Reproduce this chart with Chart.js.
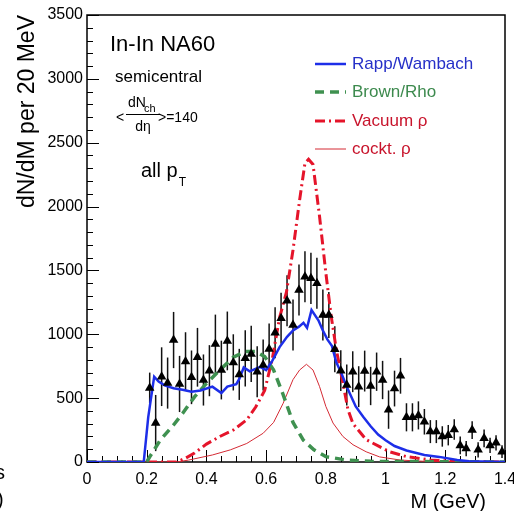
<!DOCTYPE html>
<html lang="en">
<head>
    <meta charset="UTF-8">
    <title>In-In NA60 dimuon mass spectrum</title>
    <script src="https://cdn.jsdelivr.net/npm/chart.js@4.4.3/dist/chart.umd.min.js"></script>
    <style>
        html, body { margin: 0; padding: 0; background: #ffffff; }
        #wrap { position: relative; width: 514px; height: 511px; }
    </style>
</head>
<body>
    <div id="wrap">
        <canvas id="na60-chart"></canvas>
    </div>

    <script>
        // --- data (M in GeV, counts per 20 MeV) ---
        const dataMass = [0.21, 0.23, 0.25, 0.27, 0.29, 0.31, 0.33, 0.35, 0.37, 0.39,
                          0.41, 0.43, 0.45, 0.47, 0.49, 0.51, 0.53, 0.55, 0.57, 0.59,
                          0.61, 0.63, 0.65, 0.67, 0.69, 0.71, 0.73, 0.75, 0.77, 0.79,
                          0.81, 0.83, 0.85, 0.87, 0.89, 0.91, 0.93, 0.95, 0.97, 0.99,
                          1.01, 1.03, 1.05, 1.07, 1.09, 1.11, 1.13, 1.15, 1.17, 1.19,
                          1.21, 1.23, 1.25, 1.27, 1.29, 1.31, 1.33, 1.35, 1.37, 1.39];
        const dataCounts = [580, 305, 668, 618, 955, 611, 786, 663, 820, 642,
                            715, 924, 720, 948, 780, 686, 812, 846, 707, 760,
                            885, 1012, 1125, 1263, 1073, 1347, 1451, 1438, 1399, 1151,
                            1151, 882, 715, 603, 707, 590, 712, 595, 707, 642,
                            410, 575, 675, 350, 350, 365, 315, 238, 238, 200,
                            210, 255, 130, 105, 250, 95, 185, 130, 150, 81];
        const dataErrors = [120, 220, 230, 200, 220, 220, 230, 210, 230, 200,
                            200, 230, 230, 230, 220, 200, 220, 220, 200, 200,
                            200, 200, 200, 200, 200, 200, 200, 200, 200, 200,
                            180, 180, 160, 160, 160, 160, 160, 150, 150, 150,
                            150, 140, 140, 110, 110, 110, 100, 90, 90, 80,
                            80, 80, 70, 60, 70, 60, 70, 60, 60, 50];

        const rappMass = [0, 0.19, 0.205, 0.225, 0.24, 0.26, 0.29, 0.32, 0.35, 0.38,
                          0.42, 0.45, 0.47, 0.5, 0.51, 0.525, 0.545, 0.58, 0.6, 0.62,
                          0.645, 0.67, 0.69, 0.71, 0.725, 0.737, 0.752, 0.775, 0.79, 0.805,
                          0.82, 0.835, 0.852, 0.87, 0.9, 0.925, 0.95, 0.975, 1.0, 1.03,
                          1.07, 1.13, 1.18, 1.24, 1.28, 1.4];
        const rappCounts = [0, 0, 350, 668, 630, 600, 578, 565, 550, 560,
                            590, 540, 590, 610, 650, 740, 710, 745, 720, 790,
                            900, 980, 1030, 1060, 1090, 1050, 1190, 1110, 1030, 960,
                            910, 780, 695, 590, 435, 355, 280, 215, 170, 125,
                            90, 55, 40, 15, 5, 0];

        const brownMass = [0, 0.2, 0.21, 0.245, 0.29, 0.32, 0.36, 0.4, 0.445, 0.49,
                           0.53, 0.565, 0.595, 0.625, 0.655, 0.69, 0.725, 0.76, 0.8, 0.87,
                           0.95, 1.4];
        const brownCounts = [0, 0, 40, 170, 290, 380, 510, 615, 720, 820,
                             865, 865, 825, 720, 540, 310, 170, 95, 42, 15,
                             5, 0];

        const vacuumMass = [0, 0.3, 0.33, 0.36, 0.4, 0.445, 0.49, 0.535, 0.565, 0.595,
                            0.62, 0.645, 0.668, 0.69, 0.712, 0.73, 0.742, 0.757, 0.779, 0.8,
                            0.818, 0.835, 0.857, 0.874, 0.891, 0.935, 0.98, 1.013, 1.07, 1.15,
                            1.25, 1.4];
        const vacuumCounts = [0, 0, 30, 70, 140, 200, 250, 330, 430, 560,
                              800, 1130, 1330, 1660, 2050, 2340, 2370, 2330, 1920, 1480,
                              1140, 880, 620, 410, 300, 175, 120, 80, 42, 16,
                              3, 0];

        const cocktMass = [0, 0.3, 0.34, 0.42, 0.48, 0.535, 0.59, 0.625, 0.657, 0.69,
                           0.712, 0.735, 0.757, 0.779, 0.8, 0.824, 0.857, 0.891, 0.935, 0.98,
                           1.05, 1.15, 1.4];
        const cocktCounts = [0, 0, 15, 55, 95, 145, 225, 310, 460, 645,
                             720, 765, 720, 590, 435, 305, 200, 135, 80, 40,
                             15, 3, 0];

        const xTicks = [0, 0.2, 0.4, 0.6, 0.8, 1.0, 1.2, 1.4];
        const yTicks = [0, 500, 1000, 1500, 2000, 2500, 3000, 3500];

        const legendLabels = ['Rapp/Wambach', 'Brown/Rho', 'Vacuum \u03c1', 'cockt. \u03c1'];
        const legendTextColors = ['#2630c8', '#3d8a4e', '#c8142c', '#c8142c'];

        const FONT = '"Liberation Sans", Arial, sans-serif';

        function toPoints(xs, ys) {
            return xs.map((x, i) => ({ x: x, y: ys[i] }));
        }

        // vertical error bars, drawn behind the curves
        const errorBarPlugin = {
            id: 'errorBars',
            beforeDatasetsDraw(chart) {
                const ctx = chart.ctx;
                const xs = chart.scales.x, ys = chart.scales.y;
                ctx.save();
                ctx.strokeStyle = '#111111';
                ctx.lineWidth = 1.5;
                dataMass.forEach((m, i) => {
                    const px = xs.getPixelForValue(m);
                    ctx.beginPath();
                    ctx.moveTo(px, ys.getPixelForValue(dataCounts[i] - dataErrors[i]));
                    ctx.lineTo(px, ys.getPixelForValue(dataCounts[i] + dataErrors[i]));
                    ctx.stroke();
                });
                ctx.restore();
            }
        };

        // ROOT-like frame with inward ticks
        const framePlugin = {
            id: 'frame',
            beforeDatasetsDraw(chart) {
                const ctx = chart.ctx;
                const a = chart.chartArea;
                const xs = chart.scales.x, ys = chart.scales.y;
                ctx.save();
                ctx.strokeStyle = '#000000';
                ctx.lineWidth = 1.5;
                ctx.strokeRect(a.left, a.top, a.right - a.left, a.bottom - a.top);
                ctx.lineWidth = 1;
                ctx.beginPath();
                for (let v = 0; v <= 1.4001; v += 0.05) {
                    const px = Math.round(xs.getPixelForValue(v)) + 0.5;
                    const major = Math.abs(v / 0.2 - Math.round(v / 0.2)) < 1e-6;
                    ctx.moveTo(px, a.bottom);
                    ctx.lineTo(px, a.bottom - (major ? 12 : 6));
                }
                for (let v = 0; v <= 3500; v += 100) {
                    const py = Math.round(ys.getPixelForValue(v)) + 0.5;
                    ctx.moveTo(a.left, py);
                    ctx.lineTo(a.left + (v % 500 === 0 ? 12 : 6), py);
                }
                ctx.stroke();
                ctx.restore();
            }
        };

        // titles, annotations and the legend box
        const textPlugin = {
            id: 'texts',
            afterDraw(chart) {
                const ctx = chart.ctx;
                ctx.save();
                ctx.fillStyle = '#000000';
                ctx.textBaseline = 'alphabetic';

                // axis titles
                ctx.font = '20px ' + FONT;
                ctx.textAlign = 'right';
                ctx.fillText('M (GeV)', 486, 508);

                ctx.save();
                ctx.translate(34, 15);
                ctx.rotate(-Math.PI / 2);
                ctx.font = '23px ' + FONT;
                ctx.textAlign = 'right';
                ctx.fillText('dN/dM per 20 MeV', 0, 0);
                ctx.restore();

                // cropped leftovers at the bottom-left edge
                ctx.textAlign = 'left';
                ctx.font = '20px ' + FONT;
                ctx.fillText('s', -5, 479);
                ctx.fillText(')', -3, 506);

                // annotations
                ctx.font = '22px ' + FONT;
                ctx.fillText('In-In NA60', 110, 51);
                ctx.font = '17px ' + FONT;
                ctx.fillText('semicentral', 115, 82);

                ctx.font = '14px ' + FONT;
                ctx.fillText('<', 116, 122);
                ctx.fillText('dN', 128, 107);
                ctx.font = '11px ' + FONT;
                ctx.fillText('ch', 144, 112);
                ctx.font = '14px ' + FONT;
                ctx.textAlign = 'center';
                ctx.fillText('d\u03b7', 143, 131);
                ctx.textAlign = 'left';
                ctx.fillText('>=140', 158, 122);
                ctx.lineWidth = 1;
                ctx.strokeStyle = '#000000';
                ctx.beginPath();
                ctx.moveTo(126, 114.5);
                ctx.lineTo(160, 114.5);
                ctx.stroke();

                ctx.font = '20px ' + FONT;
                ctx.fillText('all p', 141, 177);
                const pEnd = 141 + ctx.measureText('all p').width;
                ctx.font = '12px ' + FONT;
                ctx.fillText('T', pEnd + 1, 186);

                // legend
                const rows = [64, 92, 121, 149];
                for (let k = 0; k < 4; k++) {
                    const ds = chart.data.datasets[k + 1];
                    ctx.save();
                    ctx.strokeStyle = ds.borderColor;
                    ctx.lineWidth = ds.borderWidth;
                    ctx.setLineDash(ds.borderDash || []);
                    ctx.beginPath();
                    ctx.moveTo(315, rows[k]);
                    ctx.lineTo(346, rows[k]);
                    ctx.stroke();
                    ctx.restore();
                    ctx.fillStyle = legendTextColors[k];
                    ctx.font = '17px ' + FONT;
                    ctx.textBaseline = 'middle';
                    ctx.fillText(legendLabels[k], 352, rows[k]);
                }
                ctx.restore();
            }
        };

        const ctx = document.getElementById('na60-chart');
        new Chart(ctx, {
            type: 'scatter',
            data: {
                datasets: [
                    {
                        label: 'NA60 data',
                        data: toPoints(dataMass, dataCounts),
                        pointStyle: 'triangle',
                        pointRadius: 5.5,
                        backgroundColor: '#000000',
                        borderColor: '#000000',
                        borderWidth: 0,
                        showLine: false
                    },
                    {
                        label: legendLabels[0],
                        data: toPoints(rappMass, rappCounts),
                        showLine: true,
                        borderColor: '#1d2ee8',
                        borderWidth: 2.5,
                        pointRadius: 0
                    },
                    {
                        label: legendLabels[1],
                        data: toPoints(brownMass, brownCounts),
                        showLine: true,
                        borderColor: '#3f9150',
                        borderWidth: 3.5,
                        borderDash: [9, 6],
                        pointRadius: 0
                    },
                    {
                        label: legendLabels[2],
                        data: toPoints(vacuumMass, vacuumCounts),
                        showLine: true,
                        borderColor: '#e5142a',
                        borderWidth: 3,
                        borderDash: [10, 4, 2, 4],
                        pointRadius: 0
                    },
                    {
                        label: legendLabels[3],
                        data: toPoints(cocktMass, cocktCounts),
                        showLine: true,
                        borderColor: '#d42a34',
                        borderWidth: 1,
                        pointRadius: 0
                    }
                ]
            },
            options: {
                responsive: true,
                maintainAspectRatio: false,
                animation: false,
                events: [],
                layout: { padding: { top: 15, right: 9, left: 0, bottom: 0 } },
                plugins: {
                    legend: { display: false },
                    tooltip: { enabled: false }
                },
                scales: {
                    x: {
                        type: 'linear',
                        min: 0,
                        max: 1.4,
                        border: { display: false },
                        grid: { display: false, drawTicks: false },
                        afterBuildTicks: (scale) => { scale.ticks = xTicks.map(v => ({ value: v })); },
                        afterFit: (scale) => { scale.height = 49; scale.paddingLeft = 0; scale.paddingRight = 0; },
                        ticks: {
                            padding: 8,
                            maxRotation: 0,
                            color: '#000000',
                            font: { family: FONT, size: 16 },
                            callback: (v) => String(+v.toFixed(1))
                        }
                    },
                    y: {
                        type: 'linear',
                        min: 0,
                        max: 3500,
                        border: { display: false },
                        grid: { display: false, drawTicks: false },
                        afterBuildTicks: (scale) => { scale.ticks = yTicks.map(v => ({ value: v })); },
                        afterFit: (scale) => { scale.width = 87; scale.paddingTop = 0; scale.paddingBottom = 0; },
                        ticks: {
                            padding: 4,
                            color: '#000000',
                            font: { family: FONT, size: 16 },
                            callback: (v) => String(v)
                        }
                    }
                }
            },
            plugins: [framePlugin, errorBarPlugin, textPlugin]
        });
    </script>
</body>
</html>
